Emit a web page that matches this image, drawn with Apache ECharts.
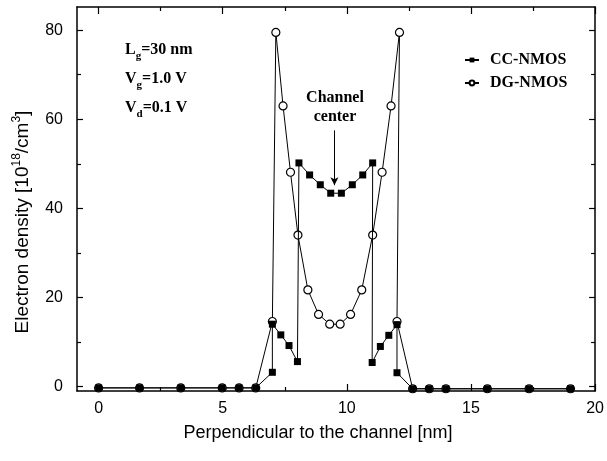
<!DOCTYPE html>
<html>
<head>
<meta charset="utf-8">
<script src="https://cdn.jsdelivr.net/npm/echarts@6.0.0/dist/echarts.min.js"></script>
<style>
  html, body { margin: 0; padding: 0; background: #fff; }
  #chart { width: 607px; height: 461px; }
</style>
</head>
<body>
<div id="chart"></div>
<script>
// values
var ccX = [0, 1.65, 3.31, 4.98, 5.66, 6.33, 7.0, 7.0, 7.34, 7.67, 8.01, 8.07, 8.5, 8.93, 9.35, 9.78, 10.22, 10.64, 11.04, 11.02, 11.35, 11.69, 12.02, 12.02, 12.65, 13.32, 13.99, 15.66, 17.34, 19.01];
var ccY = [-0.3, -0.3, -0.3, -0.3, -0.3, -0.3, 3.2, 14.0, 11.6, 9.2, 5.6, 50.2, 47.5, 45.3, 43.4, 43.4, 45.3, 47.5, 50.2, 5.4, 9.0, 11.5, 13.9, 3.1, -0.5, -0.5, -0.5, -0.5, -0.5, -0.5];
var dgX = [0, 1.65, 3.31, 4.98, 5.66, 6.33, 7.0, 7.14, 7.43, 7.73, 8.03, 8.43, 8.86, 9.31, 9.73, 10.15, 10.6, 11.04, 11.42, 11.78, 12.12, 12.02, 12.65, 13.32, 13.99, 15.66, 17.34, 19.01];
var dgY = [-0.3, -0.3, -0.3, -0.3, -0.3, -0.3, 14.6, 79.5, 63.0, 48.1, 34.0, 21.7, 16.2, 14.0, 14.0, 16.2, 21.7, 34.0, 48.1, 63.0, 79.5, 14.6, -0.5, -0.5, -0.5, -0.5, -0.5, -0.5];

var xMajor = [0, 5, 10, 15, 20];
var xMinor = [2.5, 7.5, 12.5, 17.5];
var yMajor = [0, 20, 40, 60, 80];
var yMinor = [10, 30, 50, 70];

var arrowX = [9.5, 9.5];
var arrowY = [57.5, 45.2];

function pairs(xs, ys) {
  return xs.map(function (x, i) { return [x, ys[i]]; });
}

var serif = '"Liberation Serif", "Times New Roman", serif';
var sans = '"Liberation Sans", Arial, sans-serif';
var black = '#000';

function mkX(pos, ticks, len, withLine, withLabel) {
  return {
    type: 'value', position: pos, min: -0.87, max: 20,
    axisLine: { show: withLine, onZero: false, lineStyle: { color: black, width: 1.5 } },
    axisTick: { show: true, inside: true, length: len, customValues: ticks, lineStyle: { color: black, width: 1.2 } },
    axisLabel: { show: withLabel, customValues: ticks, margin: 10, color: black, fontSize: 16, fontFamily: sans },
    splitLine: { show: false }
  };
}
function mkY(pos, ticks, len, withLine, withLabel) {
  return {
    type: 'value', position: pos, min: -1, max: 85.2,
    axisLine: { show: withLine, onZero: false, lineStyle: { color: black, width: 1.5 } },
    axisTick: { show: true, inside: true, length: len, customValues: ticks, lineStyle: { color: black, width: 1.2 } },
    axisLabel: { show: withLabel, customValues: ticks, margin: 14, color: black, fontSize: 16, fontFamily: sans },
    splitLine: { show: false }
  };
}

var chart = echarts.init(document.getElementById('chart'), null, { renderer: 'canvas' });

var option = {
  backgroundColor: '#ffffff',
  animation: false,
  grid: { left: 77, right: 9, top: 7, bottom: 70 },
  xAxis: [
    mkX('bottom', xMajor, 7, true, true),
    mkX('bottom', xMinor, 4, false, false),
    mkX('top', xMajor, 7, true, false),
    mkX('top', xMinor, 4, false, false)
  ],
  yAxis: [
    mkY('left', yMajor, 6, true, true),
    mkY('left', yMinor, 4, false, false),
    mkY('right', yMajor, 6, true, false),
    mkY('right', yMinor, 4, false, false)
  ],
  legend: {
    orient: 'vertical',
    left: 459, top: 47,
    itemWidth: 14, itemHeight: 6, itemGap: 7,
    textStyle: { color: black, fontSize: 16, fontWeight: 'bold', fontFamily: serif, padding: [0, 0, 0, 6] },
    data: ['CC-NMOS', 'DG-NMOS']
  },
  series: [
    {
      name: 'DG-NMOS', type: 'line',
      data: pairs(dgX, dgY),
      symbol: 'circle', symbolSize: 8,
      itemStyle: { color: '#fff', borderColor: black, borderWidth: 1.2 },
      lineStyle: { color: black, width: 1 },
      z: 2
    },
    {
      name: 'CC-NMOS', type: 'line',
      data: pairs(ccX, ccY),
      symbol: 'rect', symbolSize: 7,
      itemStyle: { color: black, borderColor: black, borderWidth: 0 },
      lineStyle: { color: black, width: 1 },
      z: 3,
      markLine: {
        silent: true,
        symbol: ['none', 'arrow'], symbolSize: [6, 8],
        label: { show: false },
        lineStyle: { color: black, width: 1, type: 'solid' },
        data: [[{ coord: [arrowX[0], arrowY[0]] }, { coord: [arrowX[1], arrowY[1]] }]]
      }
    }
  ],
  graphic: [
    {
      type: 'text', left: 125, top: 42,
      style: {
        text: 'L{s|g}=30 nm', fill: black, font: 'bold 16px ' + serif,
        rich: { s: { fontSize: 11, fontWeight: 'bold', fontFamily: serif, padding: [12, 0, 0, 0] } }
      }
    },
    {
      type: 'text', left: 125, top: 71,
      style: {
        text: 'V{s|g}=1.0 V', fill: black, font: 'bold 16px ' + serif,
        rich: { s: { fontSize: 11, fontWeight: 'bold', fontFamily: serif, padding: [12, 0, 0, 0] } }
      }
    },
    {
      type: 'text', left: 125, top: 100,
      style: {
        text: 'V{s|d}=0.1 V', fill: black, font: 'bold 16px ' + serif,
        rich: { s: { fontSize: 11, fontWeight: 'bold', fontFamily: serif, padding: [12, 0, 0, 0] } }
      }
    },
    {
      type: 'text', x: 335, y: 88,
      style: {
        text: 'Channel\ncenter', fill: black, font: 'bold 16px ' + serif,
        align: 'center', verticalAlign: 'top', lineHeight: 19
      }
    },
    {
      type: 'text', x: 318, y: 433,
      style: {
        text: 'Perpendicular to the channel [nm]', fill: black, font: '18px ' + sans,
        align: 'center', verticalAlign: 'middle'
      }
    },
    {
      type: 'text', x: 23, y: 222, rotation: Math.PI / 2,
      style: {
        text: 'Electron density [10{p|18}/cm{p|3}]', fill: black, font: '19px ' + sans,
        align: 'center', verticalAlign: 'middle',
        rich: { p: { fontSize: 12, fontFamily: sans, padding: [0, 0, 13, 0] } }
      }
    }
  ]
};

chart.setOption(option);
</script>
</body>
</html>
